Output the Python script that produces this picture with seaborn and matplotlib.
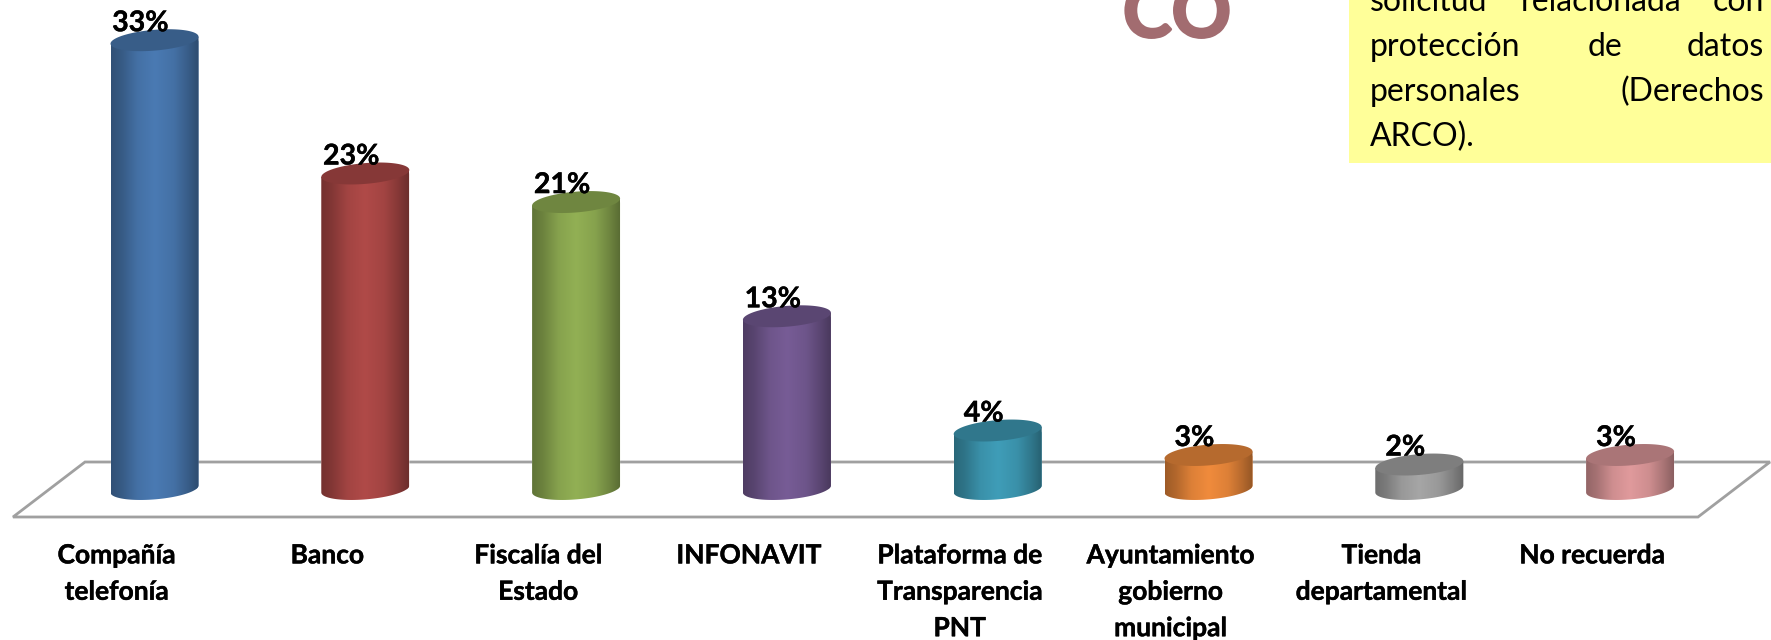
import numpy as np
import pandas as pd
import matplotlib
matplotlib.use('Agg')
import matplotlib.pyplot as plt
import matplotlib.patheffects as pe
from matplotlib.patches import Polygon, Rectangle
import seaborn as sns

# chart data
categories = ['Compañía\ntelefonía', 'Banco', 'Fiscalía del\nEstado', 'INFONAVIT',
              'Plataforma de\nTransparencia\nPNT', 'Ayuntamiento\ngobierno\nmunicipal',
              'Tienda\ndepartamental', 'No recuerda']
bar_heights = [33.0, 23.2, 21.1, 12.7, 4.3, 2.5, 1.8, 2.5]
pct_labels = ['33%', '23%', '21%', '13%', '4%', '3%', '2%', '3%']
bar_colors = ['#4A7AB3', '#B04A48', '#92B054', '#775C96', '#3F9DB8', '#F08B3C', '#A6A6A6', '#E09A9C']
note_lines = [['solicitud', 'relacionada', 'con'],
              ['protección', 'de', 'datos'],
              ['personales', '(Derechos'],
              ['ARCO).']]

W, H = 1771, 640
STEP = 210.8       # px between bars
UNIT = 13.6        # px per percent
BASE_Y = 489       # px of the zero line
AX_BOTTOM = 517

sns.set_theme(style='white')
plt.rcParams['font.family'] = ['Lato', 'DejaVu Sans']

fig = plt.figure(figsize=(W / 100, H / 100), dpi=100, facecolor='white')
ax = fig.add_axes([0, 1 - AX_BOTTOM / H, 1, AX_BOTTOM / H])
ax.patch.set_visible(False)

df = pd.DataFrame({'categoria': categories, 'valor': bar_heights})
sns.barplot(data=df, x='categoria', y='valor', hue='categoria', palette=bar_colors,
            legend=False, width=88 / STEP, saturation=1, ax=ax, zorder=2)
bars = list(ax.patches)


def fx(px):
    return px / W


def fy(px):
    return 1 - px / H


# floor of the 3D chart
floor = Polygon([(fx(85), fy(462)), (fx(1770), fy(462)), (fx(1698), fy(517)), (fx(13), fy(517))],
                closed=True, fill=False, edgecolor='#A0A0A0', lw=2,
                transform=fig.transFigure, clip_on=False, zorder=1)
ax.add_patch(floor)

# cylinder shading on top of the seaborn bars
shade_pos = [0, 0.12, 0.3, 0.5, 0.72, 0.88, 1]
shade_val = [0.66, 0.74, 0.92, 1.0, 0.92, 0.76, 0.62]
b = 10.4 / UNIT
tilt = 3.5 / UNIT
t = np.linspace(0, 2 * np.pi, 120)
t_low = np.linspace(np.pi, 2 * np.pi, 60)
u = np.linspace(0, 1, 128)
shade = np.interp(u, shade_pos, shade_val)
heavier = [pe.withStroke(linewidth=0.3, foreground='black')]

for i, bar in enumerate(bars):
    x0, w, h = bar.get_x(), bar.get_width(), bar.get_height()
    cx = x0 + w / 2
    rgb = np.array(matplotlib.colors.to_rgb(bar_colors[i]))
    low_x = cx + w / 2 * np.cos(t_low)
    low_y = b * np.sin(t_low) + tilt * np.cos(t_low)
    body = np.vstack([[x0, h - tilt], np.column_stack([low_x, low_y]), [x0 + w, h + tilt]])
    clip = Polygon(body, closed=True, transform=ax.transData)
    bar.set_clip_path(clip)
    grad = np.clip(shade[None, :, None] * rgb[None, None, :], 0, 1)
    im = ax.imshow(grad, extent=(x0, x0 + w, -2, h + 1), aspect='auto', zorder=2.5,
                   interpolation='bilinear')
    im.set_clip_path(clip)
    top = np.column_stack([cx + w / 2 * np.cos(t), h + b * np.sin(t) + tilt * np.cos(t)])
    ax.add_patch(Polygon(top, closed=True, facecolor=rgb * 0.76, edgecolor='none', zorder=3))
    ax.text(i - 14 / STEP, h + 17 / UNIT, pct_labels[i], ha='center', va='center',
            fontsize=20.5, fontweight='bold', color='black', zorder=5, path_effects=heavier)

ax.set_xlim(-154.5 / STEP, (W - 154.5) / STEP)
ax.set_ylim(-(AX_BOTTOM - BASE_Y) / UNIT, BASE_Y / UNIT)

# category labels sit a bit left of the bars
ax.set_xticks(np.arange(len(categories)) - 38 / STEP)
ax.set_xticklabels(categories, fontsize=19, fontweight='bold', color='black', linespacing=1.62,
                   path_effects=heavier)
ax.tick_params(axis='x', length=0, pad=19)
ax.set_xlabel('')
ax.set_ylabel('')
ax.set_yticks([])
sns.despine(ax=ax, left=True, bottom=True)

# yellow note, cut by the top edge
fig.patches.append(Rectangle((fx(1349), fy(163)), fx(W - 1349), 163 / H, transform=fig.transFigure,
                             facecolor='#FFFF99', edgecolor='none', zorder=2))
line_y = [11, 56, 101, 146]
word_x = [[(1370, 'left'), (1601, 'center'), (1764, 'right')],
          [(1370, 'left'), (1605, 'center'), (1764, 'right')],
          [(1370, 'left'), (1764, 'right')],
          [(1370, 'left')]]
for words, xs, y in zip(note_lines, word_x, line_y):
    for word, (x, ha) in zip(words, xs):
        fig.text(fx(x), fy(y), word, ha=ha, va='baseline', fontsize=23, color='black', zorder=3)

# piece of the logo behind the title
fig.text(fx(1177), fy(37), 'CO', ha='center', va='baseline', fontsize=53, fontweight='bold',
         color='#A26C70', zorder=3,
         path_effects=[pe.withStroke(linewidth=2, foreground='#A26C70')])

fig.savefig('out.png', dpi=100)
